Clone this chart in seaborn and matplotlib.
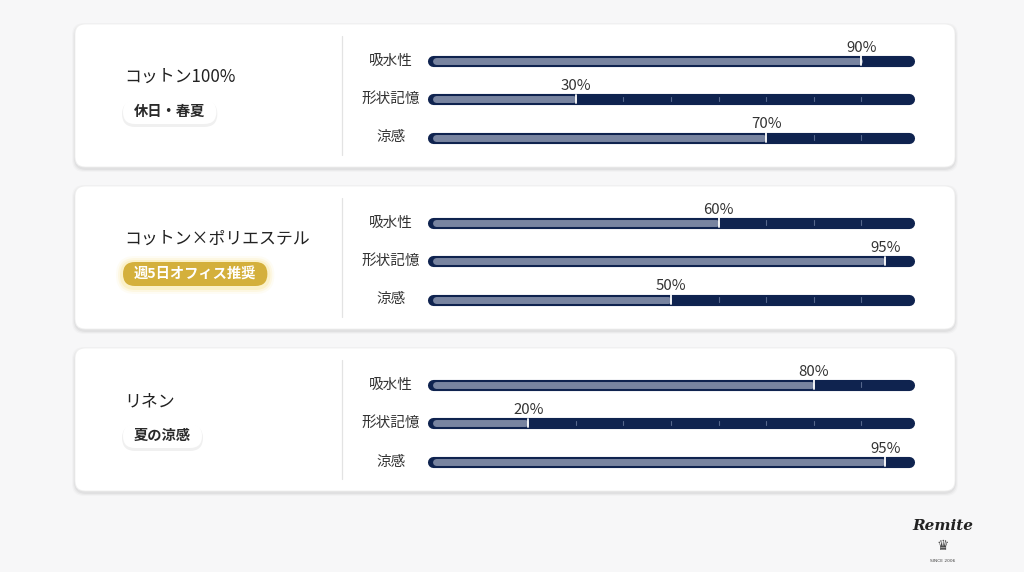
import numpy as np
import seaborn as sns
import matplotlib.pyplot as plt
from matplotlib.patches import FancyBboxPatch

# data
materials = ['コットン100%', 'コットン×ポリエステル', 'リネン']
badges = ['休日・春夏', '週5日オフィス推奨', '夏の涼感']
attributes = ['吸水性', '形状記憶', '涼感']
absorb = [90, 60, 80]
shape_memory = [30, 95, 20]
cool = [70, 50, 95]

TRACK = '#0f234f'
FILL = '#7884a0'
GOLD = '#d4b03c'
BG = '#f7f7f8'

sns.set_theme(style='white')
plt.rcParams['font.family'] = ['Noto Sans CJK JP', 'DejaVu Sans']

W, H = 1024, 572
fig = plt.figure(figsize=(W / 100, H / 100), dpi=100, facecolor=BG)
renderer = fig.canvas.get_renderer()

bg = fig.add_axes([0, 0, 1, 1], zorder=0)
bg.set_xlim(0, W)
bg.set_ylim(H, 0)
bg.axis('off')

card_tops = [24, 186, 348]
values = [[absorb[i], shape_memory[i], cool[i]] for i in range(len(materials))]


def pill(x0, yc, label, fc, tc, glow=False):
    t = bg.text(x0 + 11, yc, label, fontsize=10.3, color=tc, va='center', ha='left',
                fontweight='bold', zorder=5)
    ext = t.get_window_extent(renderer)
    w = ext.width + 22
    h = 24
    if glow:
        for g, a in [(7, 0.06), (5, 0.10), (3, 0.16)]:
            bg.add_patch(FancyBboxPatch((x0 - g, yc - h / 2 - g + 1), w + 2 * g, h + 2 * g,
                                        boxstyle=f'round,pad=0,rounding_size={h / 2 + g}',
                                        fc='#f5d34a', ec='none', alpha=a, zorder=3))
    else:
        bg.add_patch(FancyBboxPatch((x0 - 1, yc - h / 2 + 1), w + 2, h + 2,
                                    boxstyle=f'round,pad=0,rounding_size={h / 2 + 1}',
                                    fc='#000000', ec='none', alpha=0.06, zorder=3))
    bg.add_patch(FancyBboxPatch((x0, yc - h / 2), w, h, boxstyle=f'round,pad=0,rounding_size={h / 2}',
                                fc=fc, ec='none', zorder=4))


for i, top in enumerate(card_tops):
    # soft shadow + card
    for k, a in enumerate([0.02, 0.03, 0.04]):
        d = 4 - k
        bg.add_patch(FancyBboxPatch((75 - d + 1, top - d + 3), 880 + 2 * d - 2, 143 + 2 * d - 2,
                                    boxstyle='round,pad=0,rounding_size=12',
                                    fc='#000000', ec='none', alpha=a))
    bg.add_patch(FancyBboxPatch((75, top), 880, 143, boxstyle='round,pad=0,rounding_size=10',
                                fc='white', ec='#efefef', lw=0.6))
    bg.plot([342, 342], [top + 12, top + 131], color='#e3e3e3', lw=0.9)

    bg.text(124, top + 53, materials[i], fontsize=12.2, color='#222222', va='center', ha='left')
    if i == 1:
        pill(123, top + 88, badges[i], GOLD, 'white', glow=True)
    else:
        pill(123, top + 88, badges[i], 'white', '#2a2a2a')

    # bar axes for this card
    y0 = top + 17.25
    ax = fig.add_axes([433 / W, 1 - (y0 + 115.5) / H, 476 / W, 115.5 / H], zorder=2)
    ax.set_xlim(0, 100)
    ax.set_ylim(2.5, -0.5)
    ax.patch.set_alpha(0)
    ax.axis('off')

    for j, (attr, v) in enumerate(zip(attributes, values[i])):
        ax.plot([0, 100], [j, j], color=TRACK, lw=8.0, solid_capstyle='round', clip_on=False, zorder=1)
        for t in range(10, 100, 10):
            if t > v:
                ax.plot([t, t], [j - 0.06, j + 0.06], color='#56678c', lw=0.8, clip_on=False, zorder=2)
        ax.plot([0.6, v - 0.6], [j, j], color=FILL, lw=5.0, solid_capstyle='round', clip_on=False, zorder=3)
        ax.plot([v, v], [j - 0.11, j + 0.11], color='white', lw=1.3, clip_on=False, zorder=4)
        ax.annotate(f'{v}%', xy=(v, j), xytext=(0, 9), textcoords='offset pixels',
                    ha='center', va='baseline', fontsize=10.8, color='#333333')
        ax.annotate(attr, xy=(0, j), xytext=(-42, 0), textcoords='offset pixels',
                    ha='center', va='center', fontsize=10.5, color='#333333')

# brand mark
bg.text(943, 526, 'Remite', fontsize=11, fontstyle='italic', fontweight='bold',
        family='DejaVu Serif', color='#222222', ha='center', va='center')
bg.text(943, 546, '♛', fontsize=10, color='#444444', ha='center', va='center', family='DejaVu Sans')
bg.text(943, 561, 'SINCE 2006', fontsize=3.2, color='#444444', ha='center', va='center', family='DejaVu Sans')

fig.savefig('out.png', dpi=100, facecolor=BG)
